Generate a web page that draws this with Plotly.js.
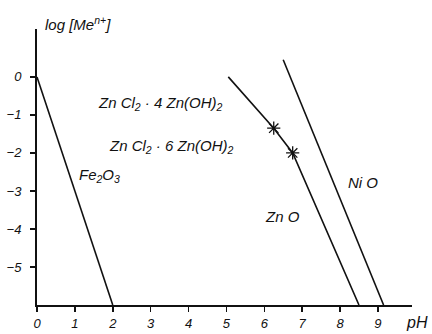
<!DOCTYPE html>
<html><head><meta charset="utf-8">
<script src="https://cdn.plot.ly/plotly-3.0.1.min.js"></script>
<style>html,body{margin:0;padding:0;background:#fff}#c{width:432px;height:334px}</style>
</head><body><div id="c"></div>
<script>
// Data
const feX = [0, 2];
const feY = [0, -6];
const znX = [5.05, 6.25, 6.75, 8.5];
const znY = [0.0, -1.35, -2.0, -6];
const niX = [6.5, 9.15];
const niY = [0.45, -6];
const starX = [6.25, 6.75];
const starY = [-1.35, -2.0];
const xTickVals = [0,1,2,3,4,5,6,7,8,9];
const xTickText = ['0','1','2','3','4','5','6','7','8','9'];
const yTickVals = [0,-1,-2,-3,-4,-5];
const yTickText = ['0','−1','−2','−3','−4','−5'];
const labelText = ['Zn Cl<sub>2</sub> · 4 Zn(OH)<sub>2</sub>','Zn Cl<sub>2</sub> · 6 Zn(OH)<sub>2</sub>','Fe<sub>2</sub>O<sub>3</sub>','Zn O','Ni O'];
const labelX = [3.25, 3.54, 1.66, 6.49, 8.6];
const labelY = [-0.71, -1.83, -2.59, -3.68, -2.78];

const F = 'Liberation Sans, Arial, sans-serif';
const lineStyle = {color:'#111', width:1.6};
const traces = [
  {x:feX, y:feY, mode:'lines', line:lineStyle, hoverinfo:'skip'},
  {x:znX, y:znY, mode:'lines', line:lineStyle, hoverinfo:'skip'},
  {x:niX, y:niY, mode:'lines', line:lineStyle, hoverinfo:'skip'},
  {x:starX, y:starY, mode:'markers', marker:{symbol:'asterisk-open', size:11, color:'#111', line:{color:'#111', width:1.3}}, hoverinfo:'skip'}
];
const annotations = labelText.map((t,i)=>({x:labelX[i], y:labelY[i], xref:'x', yref:'y', text:t, showarrow:false,
  font:{family:F, size:15, color:'#111', style:'italic'}}));
annotations.push({xref:'paper', yref:'paper', x:1.0, y:0, xanchor:'left', yanchor:'top', yshift:-7, xshift:-8, text:'pH', showarrow:false,
  font:{family:F, size:16, color:'#111', style:'italic'}});
annotations.push({xref:'paper', yref:'paper', x:0, y:1, xanchor:'left', yanchor:'bottom', xshift:6, yshift:-6, text:'log [Me<sup>n+</sup>]', showarrow:false,
  font:{family:F, size:15, color:'#111', style:'italic'}});

const layout = {
  width:432, height:334, showlegend:false,
  margin:{l:37, r:20, t:29, b:29},
  paper_bgcolor:'#fff', plot_bgcolor:'#fff',
  xaxis:{range:[0,9.9], showgrid:false, zeroline:false, showline:true, linecolor:'#111', linewidth:2,
    ticks:'outside', ticklen:5, tickwidth:1.5, tickcolor:'#111', tickvals:xTickVals, ticktext:xTickText,
    tickfont:{family:F, size:13, color:'#111', style:'italic'}},
  yaxis:{range:[-6,1.26], showgrid:false, zeroline:false, showline:true, linecolor:'#111', linewidth:2,
    ticks:'outside', ticklen:5, tickwidth:1.5, tickcolor:'#111', tickvals:yTickVals, ticktext:yTickText,
    ticklabelstandoff:6, tickfont:{family:F, size:13, color:'#111', style:'italic'}},
  annotations:annotations
};
Plotly.newPlot('c', traces, layout, {staticPlot:true, displayModeBar:false});
</script></body></html>
